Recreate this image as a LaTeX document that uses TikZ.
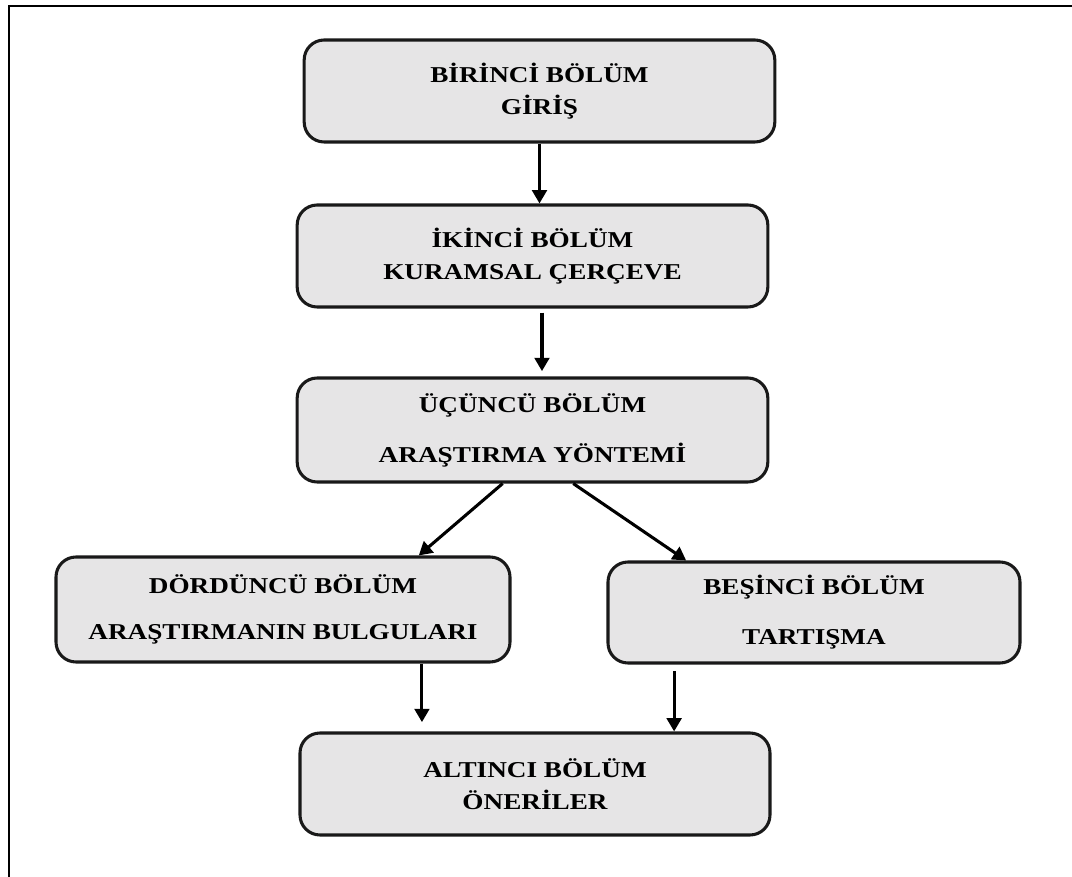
\documentclass[tikz,border=0pt]{standalone}
\usepackage{fontspec}
\setmainfont{Liberation Serif}[FakeStretch=1.2]
\usepackage{tikz}
\usetikzlibrary{arrows.meta,calc}
\definecolor{chfill}{HTML}{E6E5E6}
\tikzset{
  chapbox/.style = {draw=black!90, fill=chfill, rounded corners=15pt,
                    line width=2.3pt, align=center, inner sep=2pt,
                    font=\fontsize{17}{24}\selectfont\bfseries},
  flow/.style    = {-{Triangle[length=10pt,width=11pt]}, line width=2.3pt},
  frame/.style   = {draw=black, line width=1.5pt},
}

\begin{document}
\begin{tikzpicture}[x=0.75pt,y=-0.75pt]
  \useasboundingbox (0,0) rectangle (1072,877);

  % ---------- outer frame ------------------------------------------------
  \draw[frame] (1072,6) -- (9,6) -- (9,877);

  % ---------- chapters ---------------------------------------------------
  \node[chapbox, minimum width=353pt, minimum height=76.5pt] (b1) at (539.5,91)
    {BİRİNCİ BÖLÜM\\ GİRİŞ};
  \node[chapbox, minimum width=353pt, minimum height=76.5pt] (b2) at (532.5,256)
    {İKİNCİ BÖLÜM\\ KURAMSAL ÇERÇEVE};
  \node[chapbox, minimum width=353pt, minimum height=78pt] (b3) at (532.5,430)
    {ÜÇÜNCÜ BÖLÜM\\[13.5pt] ARAŞTIRMA YÖNTEMİ};
  \node[chapbox, minimum width=340.5pt, minimum height=78.75pt] (b4) at (283,609.5)
    {DÖRDÜNCÜ BÖLÜM\\[11pt] ARAŞTIRMANIN BULGULARI};
  \node[chapbox, minimum width=309pt, minimum height=75.75pt] (b5) at (814,612.5)
    {BEŞİNCİ BÖLÜM\\[13.5pt] TARTIŞMA};
  \node[chapbox, minimum width=352.5pt, minimum height=76.5pt] (b6) at (535,784)
    {ALTINCI BÖLÜM\\ ÖNERİLER};

  % ---------- arrow ends -------------------------------------------------
  \coordinate (o2) at ($(b2.south west)!0.52!(b2.south east)$);
  \coordinate (o3l) at ($(b3.south west)!0.437!(b3.south east)$);
  \coordinate (o3r) at ($(b3.south west)!0.586!(b3.south east)$);
  \coordinate (i4) at ($(b4.north west)!0.797!(b4.north east)$);
  \coordinate (i5) at ($(b5.north west)!0.192!(b5.north east)$);
  \coordinate (o4) at ($(b4.south west)!0.804!(b4.south east)$);
  \coordinate (o5) at ($(b5.south west)!0.163!(b5.south east)$);

  % ---------- connectors -------------------------------------------------
  \draw[flow] (b1.south) -- (b1.south |- b2.north);
  \draw[flow, shorten <=3pt, shorten >=4pt] (o2) -- (o2 |- b3.north);
  \draw[flow] (o3l) -- (i4);
  \draw[flow] (o3r) -- (i5);
  \draw[flow, shorten >=7pt] (o4) -- (o4 |- b6.north);
  \draw[flow, shorten <=5pt] (o5) -- (o5 |- b6.north);

\end{tikzpicture}
\end{document}
